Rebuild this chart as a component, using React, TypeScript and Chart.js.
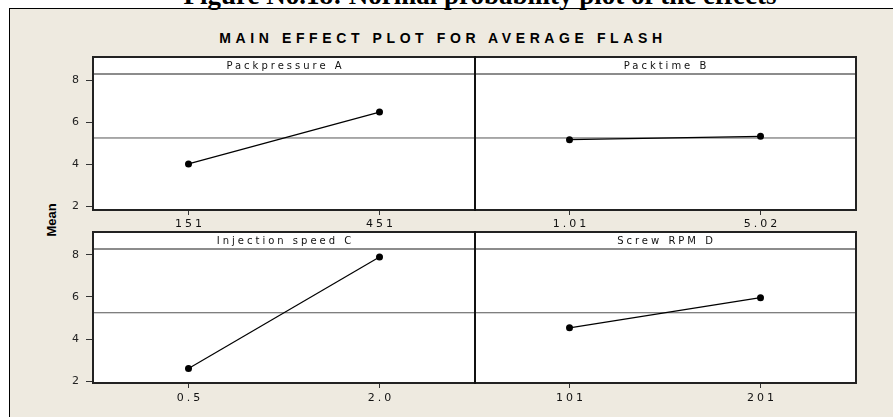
import React, { useEffect, useRef } from "react";
import { Chart, registerables } from "chart.js";

Chart.register(...registerables);

const caption = "Figure No.18: Normal probability plot of the effects";
const chartTitle = "MAIN EFFECT PLOT FOR AVERAGE FLASH";
const yAxisTitle = "Mean";
const factorNames = ["Packpressure A", "Packtime B", "Injection speed C", "Screw RPM D"];
const levelLabelsA = ["151", "451"];
const levelLabelsB = ["1.01", "5.02"];
const levelLabelsC = ["0.5", "2.0"];
const levelLabelsD = ["101", "201"];
const meansA = [4.02, 6.48];
const meansB = [5.17, 5.33];
const meansC = [2.6, 7.9];
const meansD = [4.53, 5.97];
const yTicks = [2, 4, 6, 8];

const allMeans = [...meansA, ...meansB, ...meansC, ...meansD];
const grandMean = allMeans.reduce((s, v) => s + v, 0) / allMeans.length;

const FONT = '"DejaVu Sans", Verdana, sans-serif';

const panelPlugin = {
  id: "panel",
  beforeDraw(chart: any) {
    const { ctx, chartArea: a } = chart;
    ctx.save();
    ctx.fillStyle = "#ffffff";
    ctx.fillRect(a.left, a.top, a.right - a.left, a.bottom - a.top);
    ctx.restore();
  },
  afterDraw(chart: any, _args: any, opts: any) {
    const { ctx, chartArea: a } = chart;
    ctx.save();
    ctx.strokeStyle = "#666";
    ctx.lineWidth = 1.5;
    ctx.beginPath();
    ctx.moveTo(a.left, a.top + 17);
    ctx.lineTo(a.right, a.top + 17);
    ctx.stroke();
    ctx.strokeStyle = "#222";
    ctx.lineWidth = 2;
    ctx.strokeRect(a.left, a.top, a.right - a.left, a.bottom - a.top);
    if (opts.leftLine) {
      ctx.fillStyle = "#111";
      ctx.fillRect(a.left, a.top - 1, 2, a.bottom - a.top + 2);
    }
    ctx.fillStyle = "#111";
    ctx.font = "10px " + FONT;
    (ctx as any).letterSpacing = "3px";
    ctx.textAlign = "center";
    ctx.textBaseline = "middle";
    ctx.fillText(opts.name, (a.left + a.right) / 2 + 1.5, a.top + 9);
    const xs = chart.scales.x;
    ctx.font = "11px " + FONT;
    (ctx as any).letterSpacing = "3px";
    opts.labels.forEach((lab: string, i: number) => {
      ctx.fillText(lab, xs.getPixelForValue(i) + 1.5, a.bottom + opts.labelOffset);
    });
    ctx.restore();
  },
};

type PanelProps = {
  name: string;
  labels: string[];
  values: number[];
  showY: boolean;
  left: number;
  top: number;
  width: number;
  height: number;
  padTop: number;
  padRight: number;
  xHeight: number;
  yMin: number;
  yMax: number;
  labelOffset: number;
};

function Panel(p: PanelProps) {
  const ref = useRef<HTMLCanvasElement | null>(null);
  useEffect(() => {
    if (!ref.current) return;
    const chart = new Chart(ref.current, {
      type: "line",
      data: {
        datasets: [
          {
            data: p.values.map((v, i) => ({ x: i, y: v })),
            borderColor: "#000",
            backgroundColor: "#000",
            borderWidth: 1.2,
            pointRadius: 3.5,
            pointBackgroundColor: "#000",
            pointBorderWidth: 0,
          },
          {
            data: [
              { x: -0.5, y: grandMean },
              { x: 1.5, y: grandMean },
            ],
            borderColor: "#555",
            borderWidth: 1,
            pointRadius: 0,
          },
        ],
      },
      options: {
        animation: false,
        responsive: false,
        maintainAspectRatio: false,
        layout: { autoPadding: false, padding: { top: p.padTop, right: p.padRight, left: 0, bottom: 0 } },
        plugins: {
          legend: { display: false },
          tooltip: { enabled: false },
          title: { display: false },
          panel: { name: p.name, labels: p.labels, labelOffset: p.labelOffset, leftLine: !p.showY },
        } as any,
        scales: {
          x: {
            type: "linear",
            min: -0.5,
            max: 1.5,
            afterBuildTicks: (s: any) => {
              s.ticks = p.labels.map((_, i) => ({ value: i }));
            },
            afterFit: (s: any) => {
              s.height = p.xHeight;
              s.paddingLeft = 0;
              s.paddingRight = 0;
              s.paddingTop = 0;
              s.paddingBottom = 0;
            },
            ticks: { display: false },
            grid: {
              drawOnChartArea: false,
              drawTicks: true,
              tickLength: 5,
              color: "#333",
              lineWidth: 1,
            },
            border: { display: true, color: "#222", width: 2 },
          },
          y: {
            type: "linear",
            display: p.showY,
            min: p.yMin,
            max: p.yMax,
            afterBuildTicks: (s: any) => {
              s.ticks = yTicks.map((v) => ({ value: v }));
            },
            afterFit: (s: any) => {
              s.width = p.showY ? 93 : 0;
              s.paddingLeft = 0;
              s.paddingRight = 0;
              s.paddingTop = 0;
              s.paddingBottom = 0;
            },
            ticks: {
              padding: 7,
              color: "#222",
              font: { family: FONT, size: 11 },
              callback: (v: any) => String(v),
            },
            grid: {
              drawOnChartArea: false,
              drawTicks: true,
              tickLength: 7,
              color: "#333",
              lineWidth: 1,
            },
            border: { display: true, color: "#111", width: 2 },
          },
        },
      },
      plugins: [panelPlugin],
    });
    return () => chart.destroy();
  }, []);
  return (
    <canvas
      ref={ref}
      width={p.width}
      height={p.height}
      style={{ position: "absolute", left: p.left, top: p.top, width: p.width, height: p.height }}
    />
  );
}

export default function App() {
  const topRow = { top: 47, height: 180, padTop: 10, xHeight: 17, yMin: 1.834, yMax: 9.091, labelOffset: 14 };
  const botRow = { top: 227, height: 190, padTop: 5, xHeight: 34, yMin: 1.905, yMax: 9.095, labelOffset: 15 };
  const leftCol = { left: 0, width: 477, padRight: 2, showY: true };
  const rightCol = { left: 474, width: 419, padRight: 37, showY: false };
  return (
    <div style={{ position: "absolute", left: 0, top: 0, width: 893, height: 417, overflow: "hidden", background: "#fff" }}>
      <div
        style={{
          position: "absolute",
          left: 9,
          top: 8,
          width: 900,
          height: 420,
          background: "#EEEAE0",
          borderLeft: "1px solid #000",
          borderTop: "1px solid #000",
        }}
      />
      <div
        style={{
          position: "absolute",
          left: 80,
          top: -18,
          width: 800,
          textAlign: "center",
          fontFamily: '"Liberation Serif", "Times New Roman", serif',
          fontWeight: "bold",
          fontSize: 27,
          lineHeight: "27px",
          whiteSpace: "nowrap",
          color: "#000",
        }}
      >
        {caption}
      </div>
      <div
        style={{
          position: "absolute",
          left: 143,
          top: 30,
          width: 600,
          textAlign: "center",
          fontFamily: '"Liberation Sans", Arial, sans-serif',
          fontWeight: "bold",
          fontSize: 14,
          lineHeight: "16px",
          letterSpacing: "4.6px",
          whiteSpace: "nowrap",
          color: "#000",
        }}
      >
        {chartTitle}
      </div>
      <div
        style={{
          position: "absolute",
          left: 51,
          top: 220,
          transform: "translate(-50%, -50%) rotate(-90deg)",
          fontFamily: '"Liberation Sans", Arial, sans-serif',
          fontWeight: "bold",
          fontSize: 13,
          lineHeight: "13px",
          whiteSpace: "nowrap",
          color: "#000",
        }}
      >
        {yAxisTitle}
      </div>
      <Panel name={factorNames[0]} labels={levelLabelsA} values={meansA} {...topRow} {...leftCol} />
      <Panel name={factorNames[1]} labels={levelLabelsB} values={meansB} {...topRow} {...rightCol} />
      <Panel name={factorNames[2]} labels={levelLabelsC} values={meansC} {...botRow} {...leftCol} />
      <Panel name={factorNames[3]} labels={levelLabelsD} values={meansD} {...botRow} {...rightCol} />
    </div>
  );
}
